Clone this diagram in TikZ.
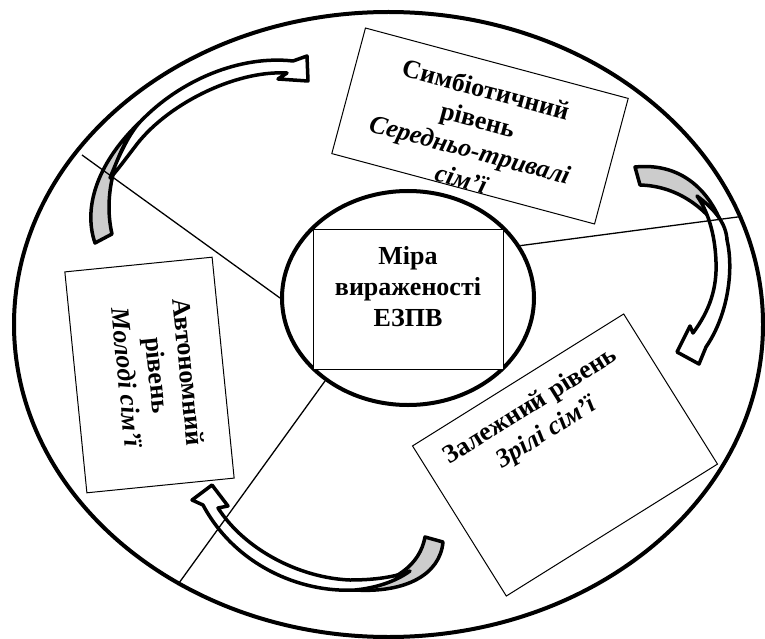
\documentclass[tikz,border=0pt]{standalone}
\usepackage{fontspec}
\setmainfont{Liberation Serif}
\usetikzlibrary{positioning,calc,shapes.geometric}

\begin{document}
\begin{tikzpicture}[x=1pt, y=-1pt,
	rim/.style={draw, ellipse, line width=4pt, inner sep=0pt},
	sector/.style={line width=1.3pt},
	frame/.style={draw, line width=1pt, fill=white, inner sep=0pt},
	caption/.style={align=center, inner sep=0pt, font=\fontsize{26}{31}\selectfont\bfseries},
	turn/.style={draw, line width=3.5pt, line join=round, fill=white},
	turnback/.style={turn, fill=black!20}]

	\useasboundingbox (0,0) rectangle (765,639);

	\node[rim, minimum width=749, minimum height=625] (outer) at (388.5,324.5) {};

	% curved arrows: grey back part first, white front part on top
	\draw[turnback] (95,243) .. controls (82,205) and (100,160) .. (140,122)
		.. controls (115,150) and (103,195) .. (112,234) -- cycle;
	\draw[turn] (110,178) .. controls (118,158) and (128,135) .. (140,122) .. controls (180,80) and (240,55) .. (293,61)
		-- (307,56) -- (308,81) -- (278,79) -- (287,73)
		.. controls (235,70) and (165,105) .. (134,148) .. controls (124,161) and (116,172) .. (110,178) -- cycle;

	\draw[turnback] (635,167) .. controls (685,162) and (715,195) .. (727,240)
		.. controls (705,205) and (675,186) .. (640,185) -- cycle;
	\draw[turn] (697,196) .. controls (713,208) and (726,222) .. (727,240) .. controls (734,270) and (728,315) .. (706,347)
		-- (699,364) -- (677,352) -- (690,326) -- (693,333)
		.. controls (710,310) and (717,288) .. (716,262) .. controls (715,232) and (707,210) .. (697,196) -- cycle;

	\draw[turnback] (443,542) .. controls (440,575) and (405,593) .. (355,590)
		.. controls (395,583) and (420,565) .. (425,537) -- cycle;
	\draw[turn] (410,571) .. controls (395,582) and (375,588) .. (355,590) .. controls (300,593) and (235,565) .. (203,505)
		-- (192,500) -- (212,485) -- (228,506) -- (218,508)
		.. controls (245,550) and (300,578) .. (350,580) .. controls (375,580) and (395,577) .. (410,571) -- cycle;

	\node[rim, minimum width=252, minimum height=214] (core) at (408,298) {};

	\coordinate (edge) at (82,155);
	\draw[sector] (edge) -- (core.180);
	\draw[sector] (core.25) -- (outer.17);
	\draw[sector] (core.225) -- (outer.231);

	\node[frame, minimum width=190, minimum height=140] (mira) at (408,299) {};
	\node[caption] (miratxt) at ([yshift=12pt]mira.center) {Міра\\вираженості\\ЕЗПВ};

	\node[frame, rotate=-15, minimum width=272, minimum height=130] (simb) at (480,126) {};
	\begin{scope}
		\clip (simb.north west) -- (simb.north east) -- (simb.south east) -- (simb.south west) -- cycle;
		\node[caption, rotate=-15] (simbtxt) at (474,134) {Симбіотичний\\рівень\\\textit{Середньо-тривалі}\\\textit{сім’ї}};
	\end{scope}

	\node[frame, rotate=5.7, minimum width=148, minimum height=222] (avt) at (149.5,375) {};
	\node[caption, rotate=-84.3] (avttxt) at (158,375) {Автономний\\рівень\\\textit{Молоді сім’ї}};

	\node[frame, rotate=32, minimum width=249, minimum height=177] (zal) at (565,455) {};
	\node[caption, rotate=32] (zaltxt) at (539,420) {Залежний рівень\\\textit{Зрілі сім’ї}};

\end{tikzpicture}
\end{document}
